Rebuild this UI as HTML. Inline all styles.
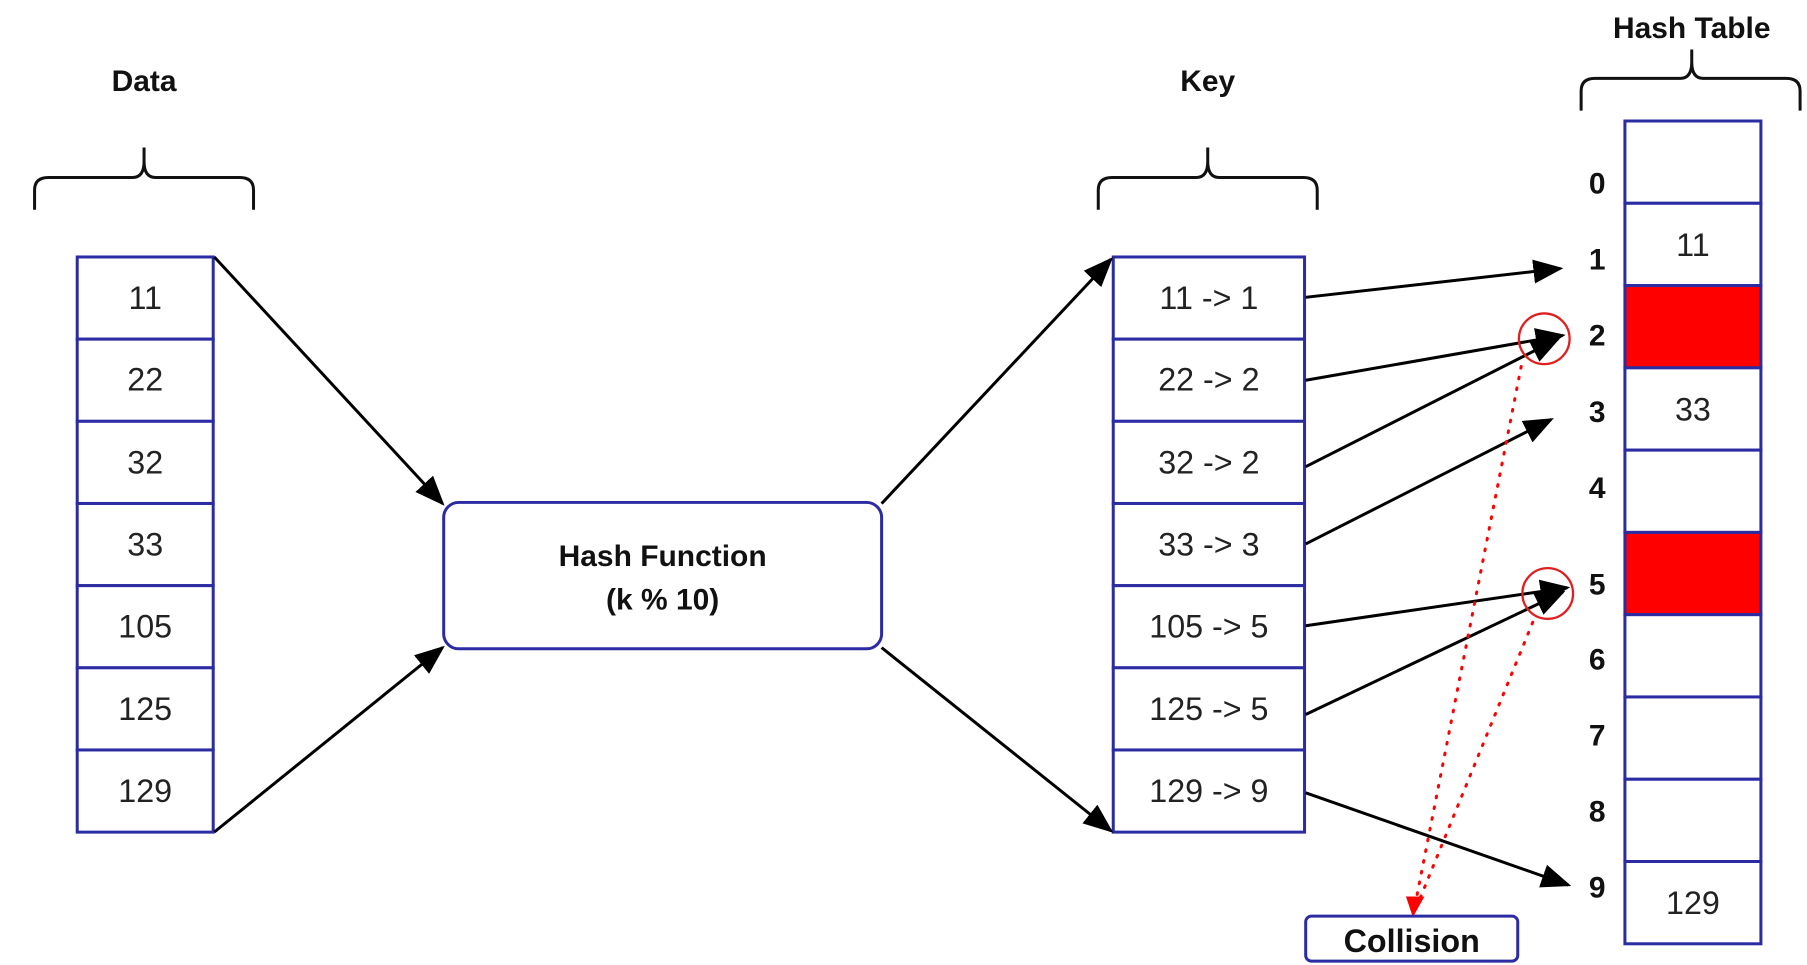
<!DOCTYPE html>
<html><head><meta charset="utf-8"><style>
html,body{margin:0;padding:0;background:#fff;}
svg{display:block;}
text{font-family:"Liberation Sans",Arial,sans-serif;}
.n{font-size:28px;fill:#222;text-anchor:middle;}
.b{font-weight:bold;font-size:26px;fill:#111;text-anchor:middle;}
.c{fill:#fff;stroke:#2b2ba3;stroke-width:2.6;}
.a{stroke:#000;stroke-width:2.6;fill:none;marker-end:url(#ah);}
.br{stroke:#111;stroke-width:2.6;fill:none;}
</style></head><body>
<svg width="1807" height="965" viewBox="0 0 1568 837.4" preserveAspectRatio="none" xmlns="http://www.w3.org/2000/svg">
<defs>
<marker id="ah" markerWidth="10" markerHeight="8" refX="9" refY="4" orient="auto" markerUnits="strokeWidth"><path d="M0,0 L10,4 L0,8 z" fill="#000"/></marker>
<marker id="rh" markerWidth="8" markerHeight="8" refX="7" refY="4" orient="auto" markerUnits="strokeWidth"><path d="M0,0 L8,4 L0,8 z" fill="#f00"/></marker>
</defs>
<rect width="1568" height="838" fill="#fff"/>
<!-- labels -->
<text class="b" x="125" y="79">Data</text>
<text class="b" x="1048" y="79">Key</text>
<text class="b" x="1468" y="33">Hash Table</text>
<!-- braces -->
<path class="br" d="M30,182 L30,165 Q30,154 42,154 L115,154 Q125,154 125,140 L125,128 M125,140 Q125,154 135,154 L208,154 Q220,154 220,165 L220,182"/>
<path class="br" d="M953,182 L953,165 Q953,154 965,154 L1038,154 Q1048,154 1048,140 L1048,128 M1048,140 Q1048,154 1058,154 L1131,154 Q1143,154 1143,165 L1143,182"/>
<path class="br" d="M1372,96 L1372,79 Q1372,68 1384,68 L1458,68 Q1468,68 1468,54 L1468,43 M1468,54 Q1468,68 1478,68 L1550,68 Q1562,68 1562,79 L1562,96"/>
<!-- data column -->
<g>
<rect class="c" x="67" y="223" width="118" height="71.3"/>
<rect class="c" x="67" y="294.3" width="118" height="71.3"/>
<rect class="c" x="67" y="365.6" width="118" height="71.3"/>
<rect class="c" x="67" y="436.9" width="118" height="71.3"/>
<rect class="c" x="67" y="508.2" width="118" height="71.3"/>
<rect class="c" x="67" y="579.5" width="118" height="71.3"/>
<rect class="c" x="67" y="650.8" width="118" height="71.3"/>
<text class="n" x="126" y="268">11</text>
<text class="n" x="126" y="339">22</text>
<text class="n" x="126" y="411">32</text>
<text class="n" x="126" y="482">33</text>
<text class="n" x="126" y="553">105</text>
<text class="n" x="126" y="625">125</text>
<text class="n" x="126" y="696">129</text>
</g>
<!-- key column -->
<g>
<rect class="c" x="966" y="223" width="166" height="71.3"/>
<rect class="c" x="966" y="294.3" width="166" height="71.3"/>
<rect class="c" x="966" y="365.6" width="166" height="71.3"/>
<rect class="c" x="966" y="436.9" width="166" height="71.3"/>
<rect class="c" x="966" y="508.2" width="166" height="71.3"/>
<rect class="c" x="966" y="579.5" width="166" height="71.3"/>
<rect class="c" x="966" y="650.8" width="166" height="71.3"/>
<text class="n" x="1049" y="268">11 -&gt; 1</text>
<text class="n" x="1049" y="339">22 -&gt; 2</text>
<text class="n" x="1049" y="411">32 -&gt; 2</text>
<text class="n" x="1049" y="482">33 -&gt; 3</text>
<text class="n" x="1049" y="553">105 -&gt; 5</text>
<text class="n" x="1049" y="625">125 -&gt; 5</text>
<text class="n" x="1049" y="696">129 -&gt; 9</text>
</g>
<!-- hash table -->
<g>
<rect class="c" x="1410" y="105" width="118" height="71.4"/>
<rect class="c" x="1410" y="176.4" width="118" height="71.4"/>
<rect class="c" x="1410" y="247.8" width="118" height="71.4" style="fill:#ff0000"/>
<rect class="c" x="1410" y="319.2" width="118" height="71.4"/>
<rect class="c" x="1410" y="390.6" width="118" height="71.4"/>
<rect class="c" x="1410" y="462" width="118" height="71.4" style="fill:#ff0000"/>
<rect class="c" x="1410" y="533.4" width="118" height="71.4"/>
<rect class="c" x="1410" y="604.8" width="118" height="71.4"/>
<rect class="c" x="1410" y="676.2" width="118" height="71.4"/>
<rect class="c" x="1410" y="747.6" width="118" height="71.4"/>
<text class="n" x="1469" y="222">11</text>
<text class="n" x="1469" y="365">33</text>
<text class="n" x="1469" y="793">129</text>
<text class="b" x="1386" y="168">0</text>
<text class="b" x="1386" y="234">1</text>
<text class="b" x="1386" y="300">2</text>
<text class="b" x="1386" y="366">3</text>
<text class="b" x="1386" y="432">4</text>
<text class="b" x="1386" y="516">5</text>
<text class="b" x="1386" y="581">6</text>
<text class="b" x="1386" y="647">7</text>
<text class="b" x="1386" y="713">8</text>
<text class="b" x="1386" y="779">9</text>
</g>
<!-- hash function -->
<rect x="385" y="436" width="380" height="127" rx="13" ry="13" fill="#fff" stroke="#2b2ba3" stroke-width="2.6"/>
<text class="b" x="575" y="491">Hash Function</text>
<text class="b" x="575" y="529">(k % 10)</text>
<!-- arrows -->
<line class="a" x1="186" y1="223" x2="384" y2="437"/>
<line class="a" x1="186" y1="722" x2="384" y2="562"/>
<line class="a" x1="765" y1="437" x2="964" y2="225"/>
<line class="a" x1="765" y1="562" x2="964" y2="721"/>
<line class="a" x1="1133" y1="258" x2="1354" y2="233"/>
<line class="a" x1="1133" y1="330" x2="1356" y2="291"/>
<line class="a" x1="1133" y1="405" x2="1352" y2="294"/>
<line class="a" x1="1133" y1="472" x2="1346" y2="364"/>
<line class="a" x1="1133" y1="543" x2="1360" y2="510"/>
<line class="a" x1="1133" y1="620" x2="1356" y2="514"/>
<line class="a" x1="1133" y1="688" x2="1361" y2="768"/>
<!-- collision -->
<circle cx="1340" cy="294" r="22" fill="none" stroke="#e02020" stroke-width="2"/>
<circle cx="1343" cy="515" r="22" fill="none" stroke="#e02020" stroke-width="2"/>
<line x1="1320" y1="318" x2="1227" y2="790" stroke="#f00" stroke-width="2.6" stroke-dasharray="1.5 8" stroke-linecap="round"/>
<line x1="1330" y1="540" x2="1230" y2="785" stroke="#f00" stroke-width="2.6" stroke-dasharray="1.5 8" stroke-linecap="round"/>
<path d="M1220,778 L1236,778 L1226,796 z" fill="#f00"/>
<rect x="1133" y="795" width="184" height="39" rx="5" fill="#fff" stroke="#2b2ba3" stroke-width="2.6"/>
<text class="b" x="1225" y="826" style="font-size:28px">Collision</text>
</svg>
</body></html>
